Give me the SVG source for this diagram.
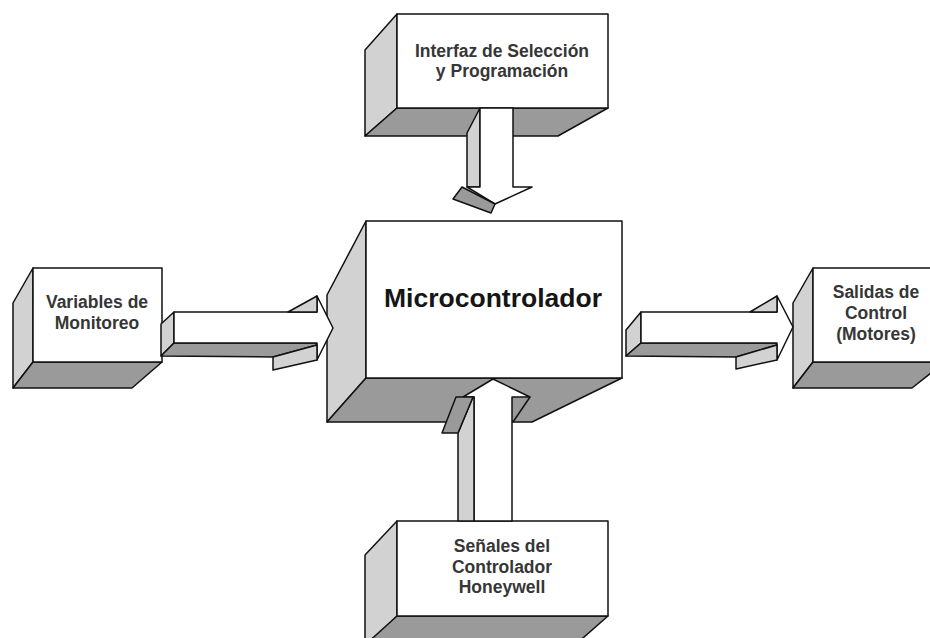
<svg xmlns="http://www.w3.org/2000/svg" width="930" height="638" viewBox="0 0 930 638">
<style>
.front{fill:#ffffff;stroke:#111;stroke-width:1.5;stroke-linejoin:round}
.side{fill:#d2d2d2;stroke:#111;stroke-width:1.5;stroke-linejoin:round}
.dark{fill:#9a9a9a;stroke:#111;stroke-width:1.5;stroke-linejoin:round}
.ln{fill:none;stroke:#111;stroke-width:1.5}
.lbl{font-family:"Liberation Sans",Arial,sans-serif;font-weight:bold;font-size:17.5px;fill:#363636;text-anchor:middle}
.big{font-family:"Liberation Sans",Arial,sans-serif;font-weight:bold;font-size:26.5px;fill:#151515;text-anchor:middle}
</style>
<rect width="930" height="638" fill="#ffffff"/>

<g id="interfaz">
<polygon class="side" points="397,14 365,50 365,136 397,108"/>
<polygon class="dark" points="397,108 608,108 558,136 365,136"/>
<rect class="front" x="397" y="14" width="211" height="94"/>
<text class="lbl" x="502" y="57">Interfaz de Selección</text>
<text class="lbl" x="502" y="77">y Programación</text>
</g>

<g id="micro">
<polygon class="side" points="366,221 327,295 327,422 366,378"/>
<polygon class="dark" points="366,378 622,378 532,422 327,422"/>
<rect class="front" x="366" y="221" width="256" height="157"/>
<text class="big" x="493" y="307">Microcontrolador</text>
</g>

<g id="variables">
<polygon class="side" points="33,268 13,303 13,388 33,362"/>
<polygon class="dark" points="33,362 162,362 132,388 13,388"/>
<rect class="front" x="33" y="268" width="129" height="94"/>
<text class="lbl" x="97" y="308">Variables de</text>
<text class="lbl" x="97" y="329">Monitoreo</text>
</g>

<g id="salidas">
<polygon class="side" points="813,268 793,303 793,388 813,362"/>
<polygon class="dark" points="813,362 945,362 912,388 793,388"/>
<rect class="front" x="813" y="268" width="132" height="94"/>
<text class="lbl" x="876" y="298">Salidas de</text>
<text class="lbl" x="876" y="319">Control</text>
<text class="lbl" x="876" y="340">(Motores)</text>
</g>

<g id="senales">
<polygon class="side" points="397,521 365,555 365,650 397,616"/>
<polygon class="dark" points="397,616 608,616 575,645 365,645"/>
<rect class="front" x="397" y="521" width="211" height="95"/>
<text class="lbl" x="502" y="552">Señales del</text>
<text class="lbl" x="502" y="573">Controlador</text>
<text class="lbl" x="502" y="593">Honeywell</text>
</g>

<g id="connectors">
<g id="arrow-down">
<polygon class="side" points="480,108 467,133 467,187 480,187"/>
<polygon class="front" points="480,108 513,108 513,187 532,187 495,204 467,187 480,187"/>
<polygon class="dark" points="462,187 495,204 491,213 453,199"/>
</g>
<g id="arrow-left">
<polygon class="side" points="174,312 161,324 161,356 174,343"/>
<polygon class="dark" points="174,343 317,343 317,345 273,357 161,356"/>
<polygon class="front" points="174,312 317,312 317,296 333,328 317,360 317,343 174,343"/>
<polygon class="side" points="288,312 317,296 317,312"/>
<polygon class="side" points="317,345 317,360 273,370 273,357"/>
</g>
<g id="arrow-right">
<polygon class="side" points="641,312 626,330 626,356 641,343"/>
<polygon class="dark" points="641,343 777,343 777,345 736,357 626,356"/>
<polygon class="front" points="641,312 777,312 777,296 793,327 777,360 777,343 641,343"/>
<polygon class="side" points="750,312 777,296 777,312"/>
<polygon class="side" points="777,345 777,360 736,369 736,357"/>
</g>
<g id="arrow-up">
<polygon class="front" points="474,521 474,397 463,397 493,379 530,397 512,397 512,521"/>
<polygon class="side" points="473,397 458,433 458,521 474,521 474,397"/>
<polygon class="dark" points="456,397 473,397 458,433 442,433"/>
<polyline class="ln" points="530,397 513,422"/>
</g>
</g>
</svg>
